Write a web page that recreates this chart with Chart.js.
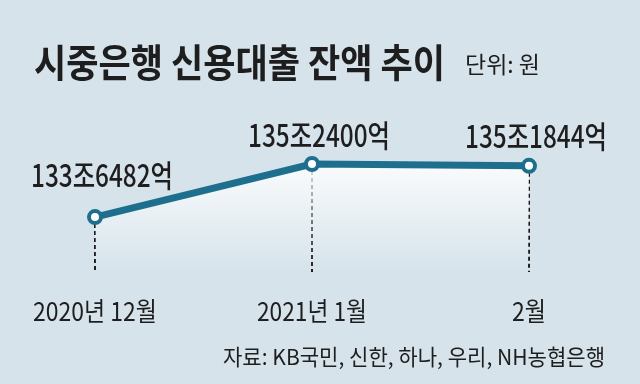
<!DOCTYPE html>
<html>
<head>
<meta charset="utf-8">
<script src="https://cdn.jsdelivr.net/npm/chart.js@4/dist/chart.umd.min.js"></script>
<style>
  html, body { margin: 0; padding: 0; background: #d6e3eb; }
  #wrap { position: relative; width: 640px; height: 384px; }
</style>
</head>
<body>
<div id="wrap"><canvas id="loanChart" width="640" height="384"></canvas></div>
<script>
// chart data
const months = ['2020년 12월', '2021년 1월', '2월'];
const balances = [1336482, 1352400, 1351844]; // 억원
const valueLabels = ['133조6482억', '135조2400억', '135조1844억'];

const titleText = '시중은행 신용대출 잔액 추이';
const unitText = '단위: 원';
const sourceText = '자료: KB국민, 신한, 하나, 우리, NH농협은행';

const lineColor = '#1e6e8e';
const bgColor = '#d6e3eb';

// Draws title, value labels, dashed guides and month labels
const annotate = {
    id: 'annotate',
    beforeDraw(chart) {
        const ctx = chart.ctx;
        ctx.save();
        ctx.fillStyle = bgColor;
        ctx.fillRect(0, 0, chart.width, chart.height);
        ctx.restore();
    },
    beforeDatasetsDraw(chart) {
        const ctx = chart.ctx;
        const meta = chart.getDatasetMeta(0);
        const bottom = chart.chartArea.bottom;
        ctx.save();
        ctx.strokeStyle = '#1a1a1a';
        ctx.lineWidth = 2;
        ctx.setLineDash([4, 3]);
        meta.data.forEach(pt => {
            const x = Math.round(pt.x);
            ctx.beginPath();
            ctx.moveTo(x, pt.y);
            ctx.lineTo(x, bottom);
            ctx.stroke();
        });
        ctx.restore();
    },
    afterDatasetsDraw(chart) {
        const ctx = chart.ctx;
        const meta = chart.getDatasetMeta(0);
        ctx.save();
        ctx.fillStyle = '#1e1e1e';
        ctx.textBaseline = 'middle';

        // title
        ctx.textAlign = 'left';
        ctx.font = 'bold 39px "Noto Sans CJK KR"';
        ctx.fillText(titleText, 34, 62, 411);
        ctx.font = '23px "Noto Sans CJK KR"';
        ctx.fillText(unitText, 465, 64, 80);

        // value labels above points
        ctx.textAlign = 'center';
        ctx.font = '500 31px "Liberation Sans Narrow", "Noto Sans CJK KR"';
        const raise = [42, 29, 30];
        meta.data.forEach((pt, i) => {
            ctx.fillText(valueLabels[i], pt.x + 7, pt.y - raise[i], 142);
        });

        // month labels
        ctx.font = '26px "Liberation Sans Narrow", "Noto Sans CJK KR"';
        meta.data.forEach((pt, i) => {
            const w = i === 0 ? 124 : (i === 1 ? 110 : 34);
            ctx.fillText(months[i], pt.x, 311, w);
        });

        // source
        ctx.textAlign = 'right';
        ctx.font = '22px "Liberation Sans Narrow", "Noto Sans CJK KR"';
        ctx.fillText(sourceText, 605, 357, 382);
        ctx.restore();
    }
};

const ctx = document.getElementById('loanChart');
new Chart(ctx, {
    type: 'line',
    data: {
        labels: months,
        datasets: [{
            data: balances,
            borderColor: lineColor,
            borderWidth: 7,
            pointRadius: 6,
            pointBorderWidth: 4,
            pointBackgroundColor: '#ffffff',
            pointBorderColor: lineColor,
            tension: 0,
            clip: false,
            fill: 'start',
            backgroundColor: (c) => {
                const area = c.chart.chartArea;
                if (!area) return 'rgba(255,255,255,0.5)';
                const g = c.chart.ctx.createLinearGradient(0, 160, 0, area.bottom);
                g.addColorStop(0, 'rgba(255,255,255,0.9)');
                g.addColorStop(1, 'rgba(255,255,255,0)');
                return g;
            }
        }]
    },
    options: {
        responsive: false,
        animation: false,
        layout: { padding: { left: 95, right: 111, top: 100, bottom: 112 } },
        scales: {
            x: { display: false },
            y: { display: false, min: 1320000, max: 1371600 }
        },
        plugins: {
            legend: { display: false },
            tooltip: { enabled: false }
        }
    },
    plugins: [annotate]
});
</script>
</body>
</html>
